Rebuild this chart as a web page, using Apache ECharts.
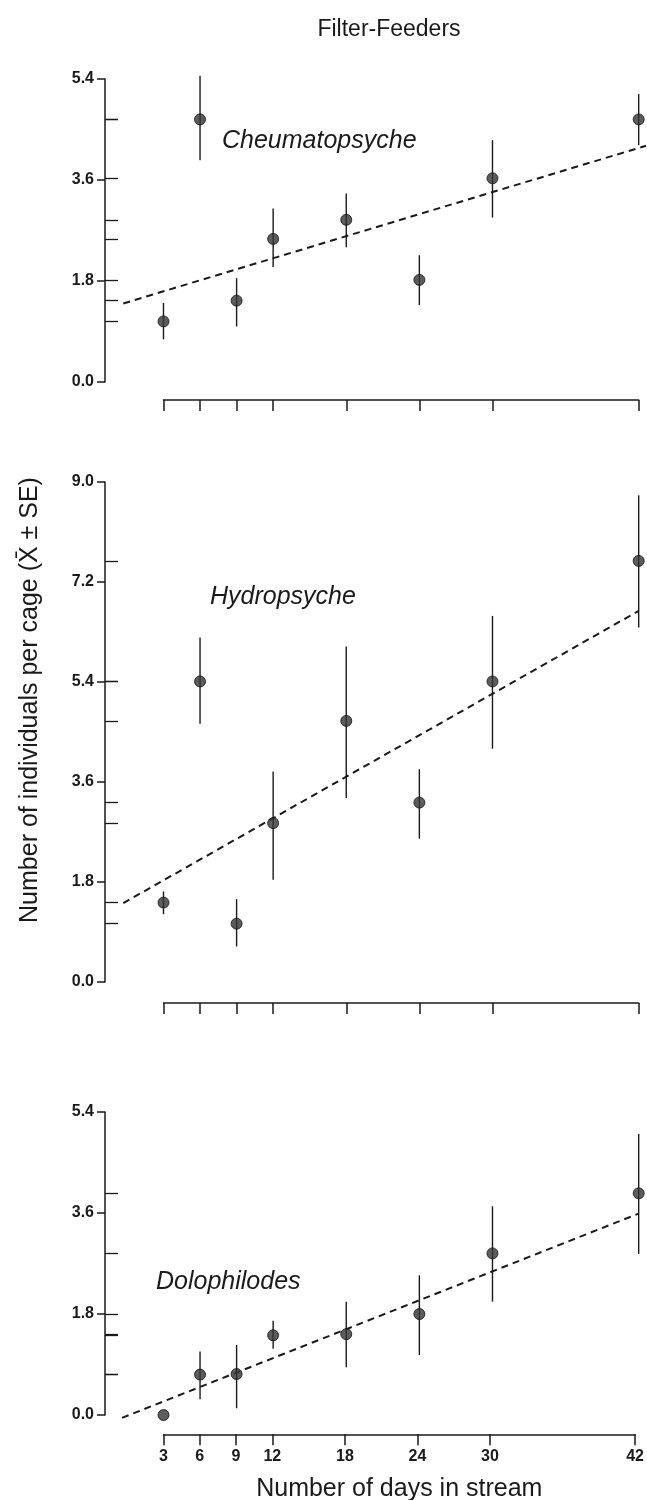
<!DOCTYPE html>
<html>
<head>
<meta charset="utf-8">
<script src="https://cdn.jsdelivr.net/npm/echarts@6/dist/echarts.min.js"></script>
<style>html,body{margin:0;padding:0;background:#fff;}#c{width:647px;height:1500px;}</style>
</head>
<body>
<div id="c"></div>
<script>
// ---- data ----
const days = [3, 6, 9, 12, 18, 24, 30, 42];
const xTickLabels = ['3', '6', '9', '12', '18', '24', '30', '42'];

const cheumMean = [1.08, 4.68, 1.45, 2.55, 2.89, 1.82, 3.63, 4.68];
const cheumLow  = [0.76, 3.95, 0.99, 2.05, 2.40, 1.37, 2.93, 4.22];
const cheumHigh = [1.41, 5.46, 1.85, 3.09, 3.36, 2.26, 4.31, 5.13];
const cheumFitX = [-0.3, 42.6];
const cheumFitY = [1.40, 4.21];

const hydroMean = [1.43, 5.41, 1.05, 2.86, 4.70, 3.23, 5.41, 7.58];
const hydroLow  = [1.22, 4.65, 0.64, 1.84, 3.31, 2.58, 4.20, 6.38];
const hydroHigh = [1.63, 6.20, 1.49, 3.79, 6.04, 3.83, 6.59, 8.76];
const hydroFitX = [-0.3, 42];
const hydroFitY = [1.42, 6.68];

const doloMean = [0.00, 0.72, 0.73, 1.42, 1.44, 1.80, 2.88, 3.95];
const doloLow  = [0.00, 0.28, 0.12, 1.18, 0.85, 1.07, 2.02, 2.87];
const doloHigh = [0.00, 1.13, 1.25, 1.68, 2.02, 2.49, 3.72, 5.01];
const doloFitX = [-0.4, 42];
const doloFitY = [-0.05, 3.59];

const yTickStep = 1.8;
const smallMax = 5.4;
const midMax = 9.0;

const title = 'Filter-Feeders';
const yTitle = 'Number of individuals per cage (X\u0304 \u00b1 SE)';
const xTitle = 'Number of days in stream';
const speciesNames = ['Cheumatopsyche', 'Hydropsyche', 'Dolophilodes'];

// ---- layout ----
const FONT = '"Liberation Sans", Arial, sans-serif';
const INK = '#1a1a1a';
const plotLeft = 105, plotWidth = 541;
const xMin = -1.8, xMax = 42.6;
const pxPerDay = plotWidth / (xMax - xMin);
const axLeft = plotLeft + (days[0] - xMin) * pxPerDay;
const axWidth = (days[days.length - 1] - days[0]) * pxPerDay;

const panels = [
  {top: 79, height: 303, axisTop: 399, max: smallMax, mean: cheumMean, low: cheumLow, high: cheumHigh, fx: cheumFitX, fy: cheumFitY, labels: false},
  {top: 482, height: 500, axisTop: 1002, max: midMax, mean: hydroMean, low: hydroLow, high: hydroHigh, fx: hydroFitX, fy: hydroFitY, labels: false},
  {top: 1112, height: 303, axisTop: 1434, max: smallMax, mean: doloMean, low: doloLow, high: doloHigh, fx: doloFitX, fy: doloFitY, labels: true}
];

const grid = [], xAxis = [], yAxis = [], series = [];
panels.forEach((p, i) => {
  const gPlot = grid.length;
  grid.push({left: plotLeft, top: p.top, width: plotWidth, height: p.height});
  const gAx = grid.length;
  grid.push({left: axLeft, top: p.axisTop, width: axWidth, height: 1});

  const xPlot = xAxis.length;
  xAxis.push({gridIndex: gPlot, type: 'value', min: xMin, max: xMax, show: false});
  xAxis.push({
    gridIndex: gAx, type: 'value', min: days[0], max: days[days.length - 1], position: 'bottom',
    axisLine: {show: true, onZero: false, lineStyle: {color: INK, width: 1.5}},
    axisTick: {show: true, length: 11, lineStyle: {color: INK, width: 1.5}, customValues: days},
    axisLabel: {show: p.labels, customValues: days, margin: 14,
      formatter: v => xTickLabels[days.indexOf(v)] || '',
      fontFamily: FONT, fontWeight: 'bold', fontSize: 16, color: INK},
    splitLine: {show: false},
    name: p.labels ? xTitle : '', nameLocation: 'middle', nameGap: 42,
    nameTextStyle: {fontFamily: FONT, fontSize: 25, color: INK}
  });

  const yPlot = yAxis.length;
  yAxis.push({
    gridIndex: gPlot, type: 'value', min: 0, max: p.max, interval: yTickStep,
    axisLine: {show: true, onZero: false, lineStyle: {color: INK, width: 1.5}},
    axisTick: {show: true, length: 8, lineStyle: {color: INK, width: 1.5}},
    axisLabel: {formatter: v => v.toFixed(1), margin: 11, fontFamily: FONT, fontWeight: 'bold', fontSize: 16, color: INK},
    splitLine: {show: false}
  });
  yAxis.push({gridIndex: gAx, type: 'value', show: false});
  yAxis.push({
    gridIndex: gPlot, type: 'value', min: 0, max: p.max, position: 'left',
    axisLine: {show: false, onZero: false},
    axisTick: {show: true, inside: true, length: 13, lineStyle: {color: INK, width: 1.3}, customValues: p.mean.filter(v => v > 0)},
    axisLabel: {show: false},
    splitLine: {show: false}
  });

  // fitted regression line
  series.push({
    type: 'line', xAxisIndex: xPlot, yAxisIndex: yPlot, symbol: 'none', clip: false, silent: true,
    data: p.fx.map((x, k) => [x, p.fy[k]]),
    lineStyle: {color: INK, width: 2, type: [7, 5]}, z: 2
  });
  // error bars
  series.push({
    type: 'custom', xAxisIndex: xPlot, yAxisIndex: yPlot, clip: false, silent: true,
    data: days.map((d, k) => [d, p.low[k], p.high[k]]),
    renderItem: (params, api) => {
      const a = api.coord([api.value(0), api.value(1)]);
      const b = api.coord([api.value(0), api.value(2)]);
      return {type: 'line', shape: {x1: a[0], y1: a[1], x2: b[0], y2: b[1]}, style: {stroke: INK, lineWidth: 1.4}};
    }, z: 3
  });
  // means
  series.push({
    type: 'scatter', xAxisIndex: xPlot, yAxisIndex: yPlot, clip: false, silent: true,
    data: days.map((d, k) => [d, p.mean[k]]),
    symbol: 'circle', symbolSize: 11,
    itemStyle: {color: '#333', borderColor: '#111', borderWidth: 1}, z: 4
  });
});

const chart = echarts.init(document.getElementById('c'), null, {renderer: 'canvas'});
chart.setOption({
  backgroundColor: '#fff',
  animation: false,
  grid, xAxis, yAxis, series,
  graphic: [
    {type: 'text', x: 389, y: 30, style: {text: title, fontFamily: FONT, fontSize: 23, fill: INK, align: 'center', verticalAlign: 'middle'}},
    {type: 'text', x: 222, y: 141, style: {text: speciesNames[0], fontFamily: FONT, fontStyle: 'italic', fontSize: 25, fill: INK, verticalAlign: 'middle'}},
    {type: 'text', x: 210, y: 597, style: {text: speciesNames[1], fontFamily: FONT, fontStyle: 'italic', fontSize: 25, fill: INK, verticalAlign: 'middle'}},
    {type: 'text', x: 156, y: 1282, style: {text: speciesNames[2], fontFamily: FONT, fontStyle: 'italic', fontSize: 25, fill: INK, verticalAlign: 'middle'}},
    {type: 'text', x: 30, y: 700, rotation: Math.PI / 2, style: {text: yTitle, fontFamily: FONT, fontSize: 25, fill: INK, align: 'center', verticalAlign: 'middle'}}
  ]
});
</script>
</body>
</html>
